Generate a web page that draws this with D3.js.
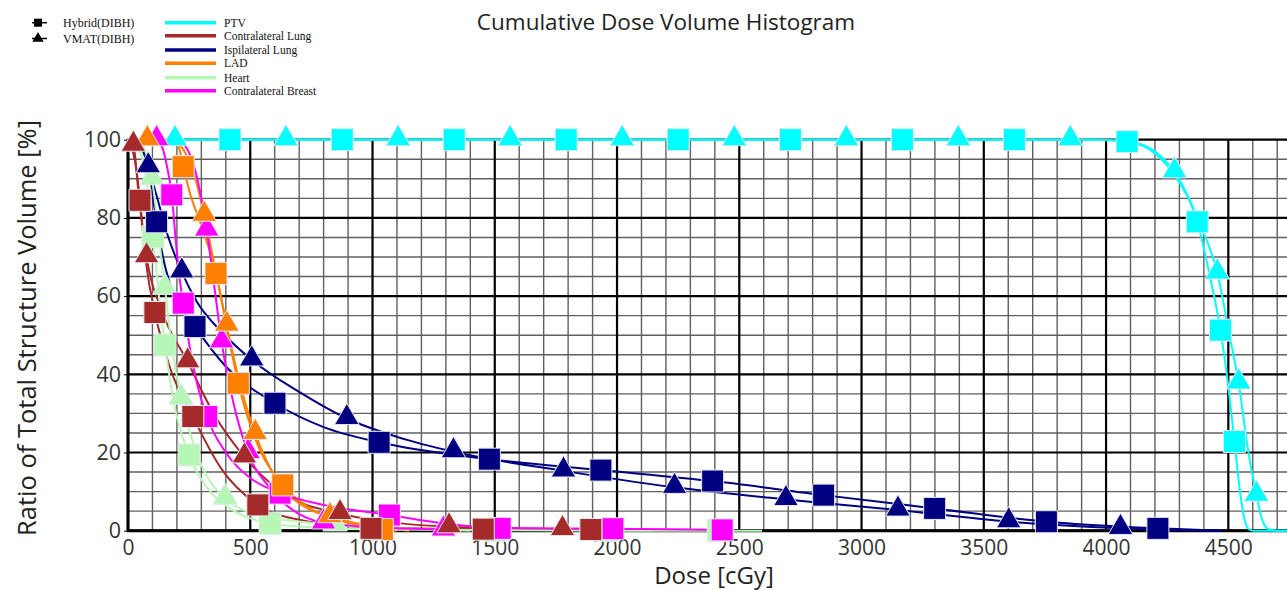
<!DOCTYPE html>
<html>
<head>
<meta charset="utf-8">
<script src="https://cdn.jsdelivr.net/npm/d3@7"></script>
<style>
  html, body { margin: 0; padding: 0; background: #fff; }
  svg { display: block; }
</style>
</head>
<body>
<svg id="chart" width="1287" height="590"></svg>
<script>
// ---------------- DATA ----------------
const categories = ["PTV", "Contralateral Lung", "Ispilateral Lung", "LAD", "Heart", "Contralateral Breast"];
const plans = ["Hybrid(DIBH)", "VMAT(DIBH)"];
const xTicks = [0, 500, 1000, 1500, 2000, 2500, 3000, 3500, 4000, 4500];
const yTicks = [0, 20, 40, 60, 80, 100];

// curves: [dose cGy, volume %]
const ptvHybridCurve = [[0,100],[3950,100],[4086,99.5],[4200,96.5],[4290,90],[4373,79],[4425,65],[4468,51.3],[4500,37],[4525,22.8],[4548,10],[4564,3.5],[4580,0.6],[4600,0],[4740,0]];
const ptvVmatCurve = [[0,100],[3950,100],[4100,99.5],[4200,97],[4280,91.8],[4380,79],[4455,65.9],[4505,50],[4542,37.8],[4580,21],[4615,9.1],[4640,2.5],[4665,0.4],[4700,0],[4740,0]];
const clHybridCurve = [[0,100],[20,97],[35,92],[49,84.5],[75,68],[110,55.8],[170,42],[265,29.2],[380,16],[531,6.6],[700,2.8],[994,0.9],[1453,0.4],[1893,0.3],[2150,0]];
const clVmatCurve = [[0,100],[22,98.6],[45,85],[76,70.1],[140,56],[244,43.2],[350,30],[476,18.9],[650,9],[867,4.4],[1100,2],[1313,1.0],[1777,0.3],[2150,0]];
const ilHybridCurve = [[45,100],[80,94],[117,79],[150,68],[184,61],[274,52.2],[400,42],[601,32.6],[800,26.5],[1027,22.6],[1478,18.3],[1934,15.5],[2391,12.7],[2845,9.1],[3299,5.7],[3756,2.3],[4212,0.6],[4470,0]];
const ilVmatCurve = [[30,100],[55,98],[83,93.1],[120,85],[160,76],[220,66.2],[281,58.6],[380,51],[506,43.7],[700,35.5],[895,28.7],[1100,24],[1331,20.2],[1781,15.3],[2235,11.1],[2691,8.0],[3149,5.3],[3602,2.3],[4059,0.6],[4300,0.1],[4470,0]];
const ladHybridCurve = [[0,100],[170,100],[205,98.5],[226,93.1],[255,86],[300,78],[360,65.8],[410,50],[451,37.7],[530,22],[633,11.7],[750,5.5],[900,2],[1040,0.3],[1100,0]];
const ladVmatCurve = [[0,100],[79,100],[190,99.5],[240,96],[280,89],[312,80.7],[360,66],[404,52.6],[460,37],[520,24.9],[620,12],[700,7],[826,3.6],[1000,1.2],[1150,0]];
const heartHybridCurve = [[0,100],[40,98],[75,90],[102,75.2],[125,61],[151,47.5],[190,32],[250,19.4],[330,10.5],[430,5.2],[581,1.9],[800,0.7],[1040,0.3],[1500,0.1],[2414,0],[2593,0]];
const heartVmatCurve = [[0,100],[50,99],[98,90],[125,76],[151,62],[180,47],[217,33.9],[280,20],[397,8.3],[550,3.8],[847,1.5],[1100,0.6],[1400,0]];
const cbHybridCurve = [[0,100],[110,100],[140,98],[160,93],[179,85.9],[197,73],[210,65],[226,58.2],[255,46],[285,37],[322,29.2],[400,20],[500,13.5],[622,9.6],[800,6.6],[1069,4.0],[1300,1.8],[1522,0.7],[1983,0.5],[2430,0.2],[2440,0]];
const cbVmatCurve = [[0,100],[117,100],[210,99.5],[255,96],[295,86.7],[322,76.9],[356,61],[383,48.3],[430,33],[491,20],[580,11],[800,2.0],[1000,0.9],[1290,0.2],[1350,0]];

// markers: [dose cGy, volume %]
const ptvHybridMarkers = [[417,100],[876,100],[1334,100],[1792,100],[2250,100],[2709,100],[3167,100],[3625,100],[4086,99.5],[4373,79],[4468,51.3],[4525,22.8]];
const ptvVmatMarkers = [[192,100],[646,100],[1105,100],[1563,100],[2021,100],[2480,100],[2938,100],[3396,100],[3854,100],[4280,91.8],[4455,65.9],[4542,37.8],[4615,9.1]];
const clHybridMarkers = [[49,84.5],[110,55.8],[265,29.2],[531,6.6],[994,0.6],[1453,0.4],[1893,0.3]];
const clVmatMarkers = [[22,98.6],[76,70.1],[244,43.2],[476,18.9],[867,4.4],[1313,1.0],[1777,0.3]];
const ilHybridMarkers = [[117,79],[274,52.2],[601,32.6],[1027,22.6],[1478,18.3],[1934,15.5],[2391,12.7],[2845,9.1],[3299,5.7],[3756,2.3],[4212,0.6]];
const ilVmatMarkers = [[83,93.1],[220,66.2],[506,43.7],[895,28.7],[1331,20.2],[1781,15.3],[2235,11.1],[2691,8.0],[3149,5.3],[3602,2.3],[4059,0.6]];
const ladHybridMarkers = [[226,93.1],[360,65.8],[451,37.7],[633,11.7],[1040,0.3]];
const ladVmatMarkers = [[79,100],[312,80.7],[404,52.6],[520,24.9],[826,3.6]];
const heartHybridMarkers = [[102,75.2],[151,47.5],[250,19.4],[581,1.9],[1040,0.3],[1500,0.1],[1960,0.1],[2414,0]];
const heartVmatMarkers = [[98,90],[151,62],[217,33.9],[397,8.3],[847,1.5]];
const cbHybridMarkers = [[179,85.9],[226,58.2],[322,29.2],[622,9.6],[1069,4.0],[1522,0.6],[1983,0.5],[2430,0.2]];
const cbVmatMarkers = [[117,100],[322,76.9],[383,48.3],[491,20],[800,2.0],[1290,0.2]];

// ---------------- STYLE ----------------
const colors = {
  "PTV": "#00ffff",
  "Contralateral Lung": "#a52a2a",
  "Ispilateral Lung": "#000080",
  "LAD": "#ff7f00",
  "Heart": "#b6f7b6",
  "Contralateral Breast": "#ff00ff"
};

const series = [
  { name: "PTV", hybrid: ptvHybridCurve, vmat: ptvVmatCurve, hM: ptvHybridMarkers, vM: ptvVmatMarkers },
  { name: "Contralateral Lung", hybrid: clHybridCurve, vmat: clVmatCurve, hM: clHybridMarkers, vM: clVmatMarkers },
  { name: "Ispilateral Lung", hybrid: ilHybridCurve, vmat: ilVmatCurve, hM: ilHybridMarkers, vM: ilVmatMarkers },
  { name: "LAD", hybrid: ladHybridCurve, vmat: ladVmatCurve, hM: ladHybridMarkers, vM: ladVmatMarkers },
  { name: "Heart", hybrid: heartHybridCurve, vmat: heartVmatCurve, hM: heartHybridMarkers, vM: heartVmatMarkers },
  { name: "Contralateral Breast", hybrid: cbHybridCurve, vmat: cbVmatCurve, hM: cbHybridMarkers, vM: cbVmatMarkers }
];
const markerOrder = ["PTV", "Heart", "Contralateral Breast", "LAD", "Ispilateral Lung", "Contralateral Lung"];

// ---------------- CHART ----------------
const svg = d3.select("#chart");
const x = d3.scaleLinear().domain([0, 4740]).range([128, 1287]);
const y = d3.scaleLinear().domain([0, 100]).range([530.7, 139.7]);

const grid = svg.append("g");
const xGrid = d3.range(0, 4701, 100);
const yGrid = d3.range(0, 101, 5);
grid.selectAll(".vmin").data(xGrid.filter(d => d % 500 !== 0)).join("line")
  .attr("x1", d => x(d)).attr("x2", d => x(d)).attr("y1", y(100)).attr("y2", y(0))
  .attr("stroke", "#606060").attr("stroke-width", 1.4);
grid.selectAll(".hmin").data(yGrid.filter(d => d % 20 !== 0)).join("line")
  .attr("x1", x(0)).attr("x2", 1287).attr("y1", d => y(d)).attr("y2", d => y(d))
  .attr("stroke", "#606060").attr("stroke-width", 1.4);
grid.selectAll(".vmaj").data(xGrid.filter(d => d % 500 === 0)).join("line")
  .attr("x1", d => x(d)).attr("x2", d => x(d)).attr("y1", y(100)).attr("y2", y(0))
  .attr("stroke", "#000").attr("stroke-width", 2.2);
grid.selectAll(".hmaj").data(yGrid.filter(d => d % 20 === 0)).join("line")
  .attr("x1", x(0)).attr("x2", 1287).attr("y1", d => y(d)).attr("y2", d => y(d))
  .attr("stroke", "#000").attr("stroke-width", 2.2);
svg.append("line").attr("x1", x(0)).attr("x2", x(0)).attr("y1", y(100) - 1).attr("y2", y(0) + 1)
  .attr("stroke", "#000").attr("stroke-width", 3);
svg.append("line").attr("x1", x(0) - 1).attr("x2", 1287).attr("y1", y(0)).attr("y2", y(0))
  .attr("stroke", "#000").attr("stroke-width", 3);

const xAxis = svg.append("g").attr("transform", `translate(0,${y(0)})`)
  .call(d3.axisBottom(x).tickValues(xTicks).tickSize(0).tickPadding(9).tickFormat(d3.format("d")));
xAxis.select(".domain").remove();
xAxis.selectAll("text").attr("font-family", "'Open Sans', sans-serif").attr("font-size", 21).attr("fill", "#333");

const yAxis = svg.append("g").attr("transform", `translate(${x(0)},0)`)
  .call(d3.axisLeft(y).tickValues(yTicks).tickSize(4).tickPadding(3).tickFormat(d3.format("d")));
yAxis.select(".domain").remove();
yAxis.selectAll("line").attr("stroke", "#000");
yAxis.selectAll("text").attr("font-family", "'Open Sans', sans-serif").attr("font-size", 21.5).attr("fill", "#333");

svg.append("text").attr("x", 666).attr("y", 30).attr("text-anchor", "middle")
  .attr("font-family", "'Open Sans', sans-serif").attr("font-size", 22.5).attr("fill", "#222")
  .text("Cumulative Dose Volume Histogram");
svg.append("text").attr("x", 714).attr("y", 584).attr("text-anchor", "middle")
  .attr("font-family", "'Open Sans', sans-serif").attr("font-size", 24).attr("fill", "#222")
  .text("Dose [cGy]");
svg.append("text").attr("transform", "translate(36,328) rotate(-90)").attr("text-anchor", "middle")
  .attr("font-family", "'Open Sans', sans-serif").attr("font-size", 25.5).attr("fill", "#222")
  .text("Ratio of Total Structure Volume [%]");

const line = d3.line().x(d => x(d[0])).y(d => y(d[1])).curve(d3.curveMonotoneX);
const curvesG = svg.append("g");
series.forEach(s => {
  [s.hybrid, s.vmat].forEach(c => {
    curvesG.append("path").attr("d", line(c)).attr("fill", "none")
      .attr("stroke", colors[s.name]).attr("stroke-width", 2);
  });
});

const sq = d3.symbol().type(d3.symbolSquare).size(22 * 22);
const tri = d3.symbol().type(d3.symbolTriangle).size(260);
const markG = svg.append("g");
markerOrder.forEach(name => {
  const s = series.find(v => v.name === name);
  markG.append("g").selectAll("path").data(s.hM).join("path")
    .attr("d", sq).attr("transform", d => `translate(${x(d[0])},${y(d[1])})`)
    .attr("fill", colors[name]).attr("stroke", "#e6e6f0").attr("stroke-width", 1);
  markG.append("g").selectAll("path").data(s.vM).join("path")
    .attr("d", tri).attr("transform", d => `translate(${x(d[0])},${y(d[1]) - 1})`)
    .attr("fill", colors[name]).attr("stroke", "#e6e6f0").attr("stroke-width", 1);
});

const lg = svg.append("g").attr("font-family", "'Liberation Serif', 'Times New Roman', serif").attr("fill", "#111");
const planY = [22.7, 38.5];
plans.forEach((p, i) => {
  lg.append("line").attr("x1", 32).attr("x2", 47).attr("y1", planY[i]).attr("y2", planY[i])
    .attr("stroke", "#000").attr("stroke-width", 1.5);
  lg.append("path").attr("d", d3.symbol().type(i === 0 ? d3.symbolSquare : d3.symbolTriangle).size(i === 0 ? 64 : 55)())
    .attr("transform", `translate(38,${planY[i]})`).attr("fill", "#000");
  lg.append("text").attr("x", 63).attr("y", planY[i]).attr("dy", "0.35em").attr("font-size", 12).text(p);
});
const serY = [22.7, 35.7, 50, 63.3, 77.7, 90.7];
categories.forEach((c, i) => {
  lg.append("line").attr("x1", 165).attr("x2", 216).attr("y1", serY[i]).attr("y2", serY[i])
    .attr("stroke", colors[c]).attr("stroke-width", 3.5);
  lg.append("text").attr("x", 224).attr("y", serY[i]).attr("dy", "0.35em").attr("font-size", 11.5).text(c);
});
</script>
</body>
</html>
